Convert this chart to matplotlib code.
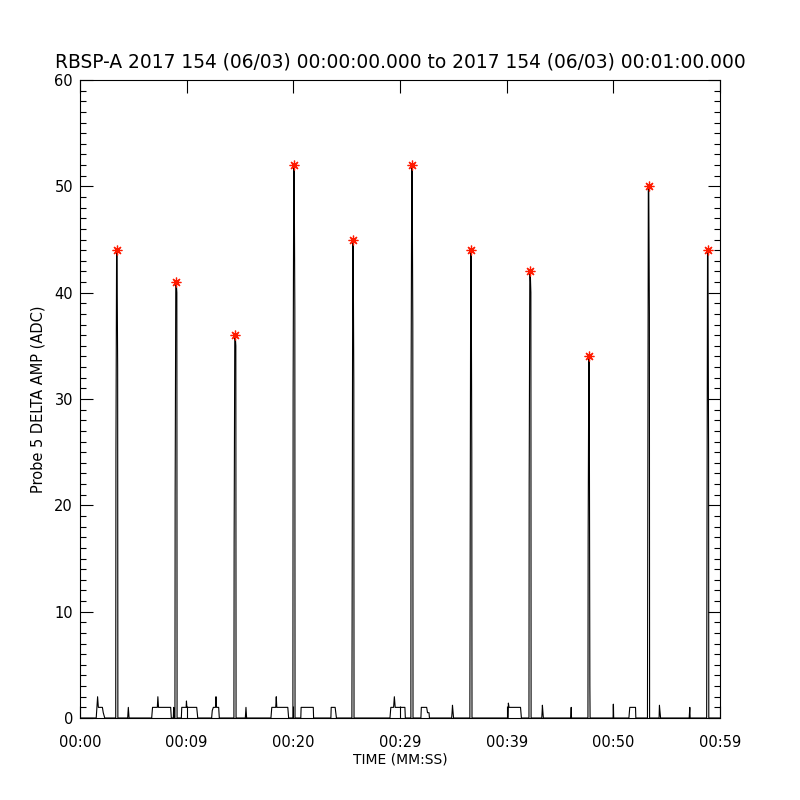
import matplotlib
matplotlib.use("Agg")
import matplotlib.pyplot as plt
from matplotlib.ticker import MultipleLocator, FixedLocator

# ---- data ----
title = "RBSP-A 2017 154 (06/03) 00:00:00.000 to 2017 154 (06/03) 00:01:00.000"
xlabel = "TIME (MM:SS)"
ylabel = "Probe 5 DELTA AMP (ADC)"
xtick_vals = [0, 10, 20, 30, 40, 50, 60]
xtick_labels = ["00:00", "00:09", "00:20", "00:29", "00:39", "00:50", "00:59"]

# main spikes (seconds, ADC)
spike_t = [3.45, 9.00, 14.53, 20.06, 25.59, 31.12, 36.65, 42.19, 47.72, 53.30, 58.85]
spike_peak = [44, 41, 36, 52, 45, 52, 44, 42, 34, 50, 44]
spike_rise = [25, 21, 16.5, 30.5, 9, 31, 10, 22, 17, 13, 10]
spike_fall = [33, 40, 35, 38.5, 31.5, 37, 25, 40, 3, 38, 25]

# low-level background signal breakpoints (seconds, ADC)
bg_t = [0.0,
        1.52, 1.58, 1.65, 1.72, 2.10, 2.18, 2.32,
        4.47, 4.53, 4.60,
        6.72, 6.80, 7.25, 7.30, 7.36, 8.50, 8.56,
        8.75, 8.78, 8.80,
        9.50, 9.54, 9.95, 9.98, 10.02, 10.94, 11.04,
        12.34, 12.40, 12.50, 12.70, 12.75, 12.80, 13.00, 13.06,
        15.50, 15.56, 15.62,
        17.90, 17.98, 18.35, 18.40, 18.45, 19.48, 19.56,
        20.70, 20.73, 21.87, 21.90,
        23.52, 23.55, 23.92, 23.98, 24.04,
        29.06, 29.14, 29.40, 29.47, 29.55, 30.46, 30.50,
        31.96, 32.00, 32.50, 32.58, 32.72, 32.76,
        34.84, 34.88, 34.92, 34.98, 35.02,
        40.14, 40.16, 40.22, 41.30, 41.38,
        43.29, 43.32, 43.35, 43.40, 43.44,
        46.00, 46.03, 46.05, 46.08,
        49.98, 50.00, 50.03,
        51.46, 51.50, 51.54, 52.08, 52.11,
        54.29, 54.32, 54.38, 54.43,
        57.11, 57.14, 57.17, 57.20,
        60.0]
bg_v = [0,
        0, 1, 2, 1, 1, 0.5, 0,
        0, 1, 0,
        0, 1, 1, 2, 1, 1, 0,
        0, 1, 0,
        0, 1, 1, 1.6, 1, 1, 0,
        0, 0.7, 1, 1, 2, 1, 1, 0,
        0, 1, 0,
        0, 1, 1, 2, 1, 1, 0,
        0, 1, 1, 0,
        0, 1, 1, 0.5, 0,
        0, 1, 1, 2, 1, 1, 0,
        0, 1, 1, 0.5, 0.5, 0,
        0, 0.5, 1.2, 0.5, 0,
        0, 1.4, 1, 1, 0,
        0, 0.5, 1.2, 0.5, 0,
        0, 0.5, 1, 0,
        0, 1.3, 0,
        0, 0.5, 1, 1, 0,
        0, 1.2, 0.5, 0,
        0, 0.5, 1, 0,
        0]

# ---- assemble the trace ----
pts = list(zip(bg_t, bg_v))
for tp, pk, r, f in zip(spike_t, spike_peak, spike_rise, spike_fall):
    pts += [(tp - 0.10, 0), (tp - 0.08, r), (tp - 0.02, pk), (tp + 0.02, pk),
            (tp + 0.08, f), (tp + 0.10, 0)]
pts.sort(key=lambda p: p[0])
tt = [p[0] for p in pts]
vv = [p[1] for p in pts]

plt.rcParams['font.family'] = ['DejaVu Sans']
fig = plt.figure(figsize=(8, 8), dpi=100)
ax = fig.add_axes([0.1, 0.1025, 0.8, 0.7975])

ax.plot(tt, vv, color='black', lw=0.8)
ax.plot(spike_t, spike_peak, linestyle='none', marker=(8, 2, 0), color='#ff1a00',
        markersize=7, mew=0.9)

ax.set_xlim(0, 60)
ax.set_ylim(0, 60)
ax.xaxis.set_major_locator(FixedLocator(xtick_vals))
ax.set_xticklabels(xtick_labels)
ax.yaxis.set_major_locator(MultipleLocator(10))
ax.yaxis.set_minor_locator(MultipleLocator(1))

ax.tick_params(axis='both', which='both', direction='in', top=True, right=True,
               width=0.8, labelsize=10.5)
ax.tick_params(axis='both', which='major', length=9)
ax.tick_params(axis='y', which='minor', length=4.5)
ax.tick_params(axis='x', which='major', pad=12)
ax.tick_params(axis='y', which='major', pad=5)
for s in ax.spines.values():
    s.set_linewidth(0.8)

ax.set_title(title, fontsize=13.4, pad=9)
ax.set_xlabel(xlabel, fontsize=10, labelpad=2)
ax.set_ylabel(ylabel, fontsize=10.5, labelpad=6)

fig.savefig("out.png", dpi=100, facecolor='white')
